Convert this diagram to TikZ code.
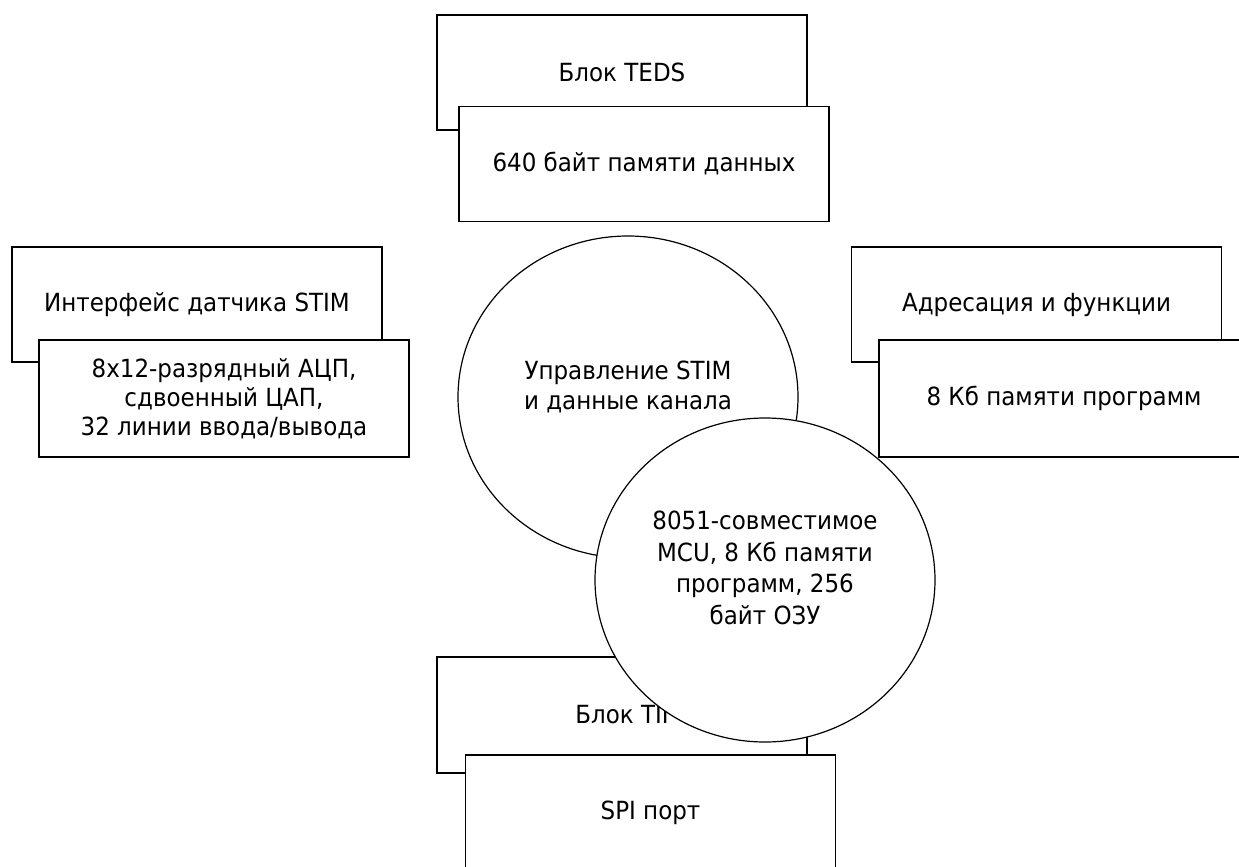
\documentclass[tikz,border=0pt]{standalone}
\usepackage{fontspec}
\setmainfont{DejaVu Sans}[FakeStretch=0.92]
\usetikzlibrary{shapes.geometric}

\tikzset{
  blk/.style={draw, fill=white, line width=1.2pt, minimum width=370pt, minimum height=115pt,
    inner sep=0pt, align=center, font=\fontsize{25}{29}\selectfont},
  ell/.style={draw, fill=white, ellipse, line width=1.2pt, minimum width=340pt,
    minimum height=323pt, inner sep=0pt},
  lbl/.style={align=center, inner sep=0pt, font=\fontsize{25}{30}\selectfont}
}

\begin{document}
\begin{tikzpicture}[x=1pt,y=1pt,yscale=-1]
	\useasboundingbox (0,0) rectangle (1239,867);
	\clip (0,0) rectangle (1239,867);

	% TEDS
	\node[blk] (tedsback) at (622,72.5) {Блок TEDS};
	\node[blk] (tedsfront) at (644,164) {640 байт памяти данных};
	% STIM interface
	\node[blk] (stimback) at (197,304.5) {Интерфейс датчика STIM};
	\node[blk, minimum height=117pt] (stimfront) at (224,398.5) {8x12-разрядный АЦП,\\сдвоенный ЦАП,\\32 линии ввода/вывода};
	% addressing
	\node[blk] (addrback) at (1036.5,304.5) {Адресация и функции};
	\node[blk, minimum height=117pt] (addrfront) at (1064,398.5) {8 Кб памяти программ};
	% TII
	\node[blk, minimum height=116pt] (tiiback) at (622,715) {Блок TII};
	\node[blk] (spifront) at (650.5,812.5) {SPI порт};

	% circles
	\node[ell, minimum height=322pt] (ctrl) at (628,397) {};
	\node[lbl] (ctrltext) at ([yshift=-10]ctrl.center) {Управление STIM\\и данные канала};
	\node[ell, minimum height=324pt] (mcu) at (765,580) {};
	\node[lbl, font=\fontsize{25}{31.5}\selectfont] (mcutext) at ([yshift=-12]mcu.center) {8051-совместимое\\MCU, 8 Кб памяти\\программ, 256\\байт ОЗУ};
\end{tikzpicture}
\end{document}
